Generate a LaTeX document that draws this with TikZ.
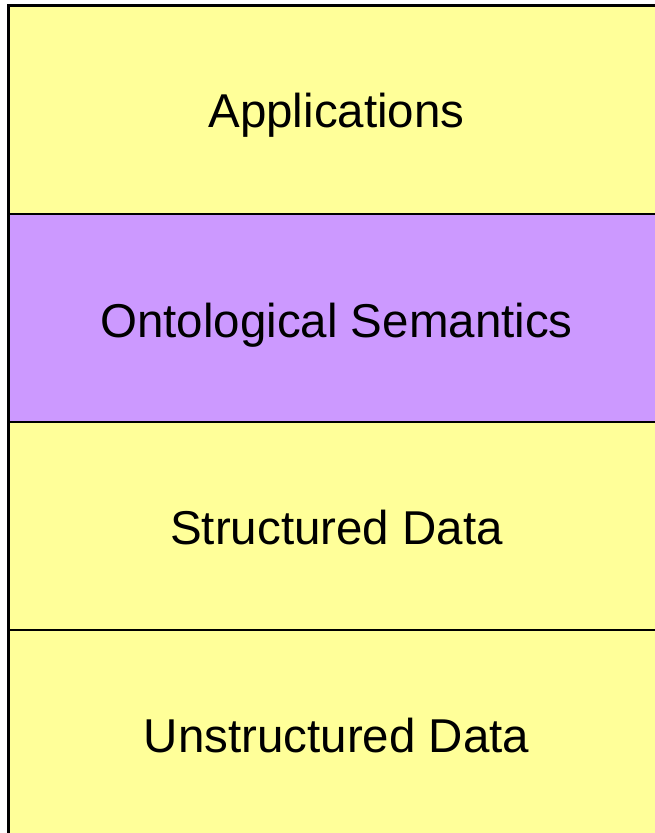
\documentclass[tikz,border=0pt]{standalone}
\usepackage{fontspec}
\setmainfont{Liberation Sans}
\definecolor{layeryellow}{HTML}{FFFF99}
\definecolor{layerpurple}{HTML}{CC99FF}
\begin{document}
\begin{tikzpicture}[x=1pt,y=-1pt,
  layer/.style={draw=black,line width=2.5pt},
  label/.style={anchor=base,inner sep=0pt,font=\fontsize{47.5}{57}\selectfont}]
\useasboundingbox (0,0) rectangle (655,833);
\begin{scope}
\clip (0,0) rectangle (655,833);
\fill[white] (0,0) rectangle (655,833);
\draw[layer,fill=layeryellow] (8.5,5.5) rectangle (664.5,214);
\draw[layer,fill=layerpurple] (8.5,214) rectangle (664.5,422);
\draw[layer,fill=layeryellow] (8.5,422) rectangle (664.5,630);
\draw[layer,fill=layeryellow] (8.5,630) rectangle (664.5,840);
\end{scope}
\node[label] (apps) at (336.5,127.5) {Applications};
\node[label] (onto) at (336.5,337) {Ontological Semantics};
\node[label] (struct) at (336.5,544) {Structured Data};
\node[label] (unstruct) at (336.5,752) {Unstructured Data};
\end{tikzpicture}
\end{document}
